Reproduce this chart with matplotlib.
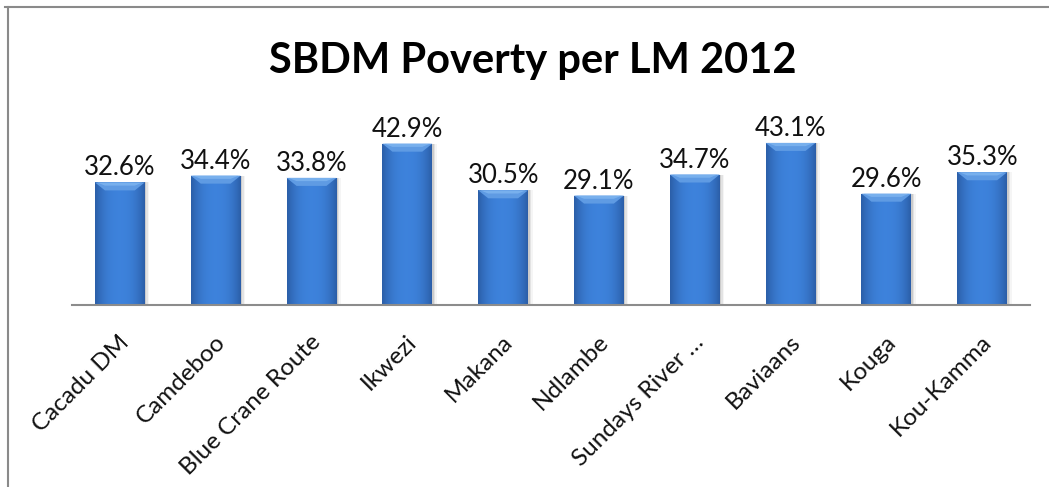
import numpy as np
import matplotlib
matplotlib.use("Agg")
import matplotlib.pyplot as plt
from matplotlib.patches import Polygon, Rectangle
from matplotlib.lines import Line2D
from matplotlib.transforms import ScaledTranslation

# Poverty share per local municipality, 2012
municipalities = ["Cacadu DM", "Camdeboo", "Blue Crane Route", "Ikwezi", "Makana",
                  "Ndlambe", "Sundays River …", "Baviaans", "Kouga", "Kou-Kamma"]
poverty_pct = [32.6, 34.4, 33.8, 42.9, 30.5, 29.1, 34.7, 43.1, 29.6, 35.3]
title = "SBDM Poverty per LM 2012"

FONT = ["Lato", "DejaVu Sans"]
plt.rcParams["font.family"] = FONT

fig = plt.figure(figsize=(10.49, 4.87), dpi=100)
ax = fig.add_axes([0.0686, 0.3737, 0.9134, 0.3861])

x = np.arange(len(municipalities))
bars = ax.bar(x, poverty_pct, width=0.52, color="#3a75c8", zorder=2)

ax.set_xlim(-0.5, len(municipalities) - 0.5)
ax.set_ylim(0, 50)
fig.canvas.draw()

# pixel -> data conversions for shading details
px_per_unit = ax.transData.transform((0, 1))[1] - ax.transData.transform((0, 0))[1]
px_per_x = ax.transData.transform((1, 0))[0] - ax.transData.transform((0, 0))[0]

# horizontal shading: darker at the sides, lighter in the middle
prof = np.linspace(-1, 1, 64)
shade = 1 - np.abs(prof) ** 2.4
dark = np.array([0.17, 0.37, 0.66])
light = np.array([0.24, 0.51, 0.86])
row = dark[None, :] + (light - dark)[None, :] * shade[:, None]
grad = np.repeat(row[None, :, :], 2, axis=0)

for b in bars:
    x0, w, h = b.get_x(), b.get_width(), b.get_height()
    # soft drop shadow
    for k, a in enumerate([0.10, 0.07, 0.04]):
        off = (k + 1) * 1.5 / px_per_x
        ax.add_patch(Rectangle((x0 + off, 0), w, h - off * 0.3, facecolor="#000000",
                               alpha=a, lw=0, zorder=1))
    im = ax.imshow(grad, extent=(x0, x0 + w, 0, h), aspect="auto", zorder=2.5,
                   interpolation="bilinear")
    im.set_clip_path(b)
    # bevelled top
    cap = 8 / px_per_unit
    d = 10 / px_per_x
    ax.add_patch(Polygon([(x0, h), (x0 + w, h), (x0 + w - d, h - cap), (x0 + d, h - cap)],
                         closed=True, facecolor="#5f9be3", edgecolor="none", zorder=3))
    ax.add_patch(Polygon([(x0 + 2 / px_per_x, h), (x0 + w - 2 / px_per_x, h),
                          (x0 + w - d, h - cap * 0.4), (x0 + d, h - cap * 0.4)],
                         closed=True, facecolor="#84b9f2", edgecolor="none", zorder=3.1, alpha=0.7))
    ax.text(b.get_x() + w / 2, h + 2 / px_per_unit, f"{h:.1f}%", ha="center", va="bottom",
            fontsize=18.5, color="#111111", zorder=4)

ax.set_aspect("auto")
for s in ["left", "right", "top"]:
    ax.spines[s].set_visible(False)
ax.spines["bottom"].set_color("#8c8c8c")
ax.spines["bottom"].set_linewidth(1.5)
ax.spines["bottom"].set_zorder(5)
ax.set_yticks([])
ax.set_xticks(x)
ax.set_xticklabels(municipalities, rotation=45, ha="right", va="center",
                   rotation_mode="anchor", fontsize=17.5, color="#111111")
ax.tick_params(axis="x", length=0, pad=20)
shift = ScaledTranslation(6 / 100, -6 / 100, fig.dpi_scale_trans)
for lbl in ax.get_xticklabels():
    lbl.set_transform(lbl.get_transform() + shift)

fig.text(0.508, 0.875, title, ha="center", va="center", fontsize=30,
         fontweight="bold", color="#000000")

# outer frame (left and top edges)
fig.add_artist(Line2D([8 / 1049, 8 / 1049], [0, 1 - 7 / 487], transform=fig.transFigure,
                      color="#8a8a8a", lw=1.5))
fig.add_artist(Line2D([5 / 1049, 1], [1 - 7 / 487, 1 - 7 / 487], transform=fig.transFigure,
                      color="#8a8a8a", lw=1.5))

fig.savefig("out.png", dpi=100, facecolor="white")
